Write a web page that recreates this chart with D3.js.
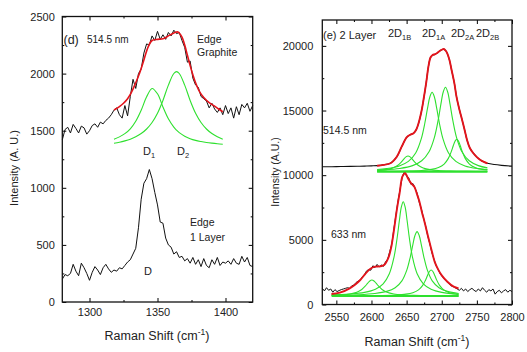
<!DOCTYPE html>
<html>
<head>
<meta charset="utf-8">
<script src="https://cdn.jsdelivr.net/npm/d3@7"></script>
<style>
html,body{margin:0;padding:0;background:#fff;}
svg{display:block;font-family:"Liberation Sans",Arial,sans-serif;}
</style>
</head>
<body>
<svg id="chart" width="527" height="352"></svg>
<script>
// ---------- Panel (d) data ----------
const dTopX = [1280,1282,1284,1286,1288,1290,1292,1294,1296,1298,1300,1302,1304,1306,1308,1310,1312,1314,1316,1318,1320,1322,1324,1326,1328,1330,1332,1334,1336,1338,1340,1342,1344,1346,1348,1350,1352,1354,1356,1358,1360,1362,1364,1366,1368,1370,1372,1374,1376,1378,1380,1382,1384,1386,1388,1390,1392,1394,1396,1398,1400,1402,1404,1406,1408,1410,1412,1414,1416,1418,1420];
const dTopY = [1420,1510,1530,1480,1555,1520,1480,1540,1525,1470,1500,1545,1560,1530,1575,1560,1590,1610,1640,1680,1700,1640,1610,1720,1630,1800,1950,1870,2000,2040,2180,2260,2250,2330,2290,2370,2300,2340,2300,2360,2330,2380,2350,2360,2290,2230,2100,2110,1960,1900,1880,1800,1780,1760,1700,1740,1690,1660,1700,1640,1720,1650,1700,1610,1710,1640,1730,1700,1740,1670,1720];
const dBotY = [200,240,230,250,330,270,230,340,300,250,190,260,310,280,240,300,330,290,260,280,270,300,290,320,350,370,420,470,650,900,1040,1080,1160,1080,960,850,700,690,560,500,480,420,440,390,400,360,380,340,390,330,370,310,380,320,300,370,330,390,320,350,340,360,330,380,340,330,400,350,390,320,310];
const dFitX = [1318,1322,1325,1328,1331,1334,1337,1340,1343,1346,1350,1354,1358,1362,1365,1368,1370,1372,1374,1376,1378,1381,1384,1388,1392,1395,1398];
const dFitY = [1681,1710,1740,1780,1840,1920,2010,2120,2230,2290,2300,2305,2330,2355,2365,2320,2250,2160,2070,1990,1920,1840,1790,1745,1715,1690,1666];
const dPeakX = [1318,1322,1326,1330,1334,1338,1342,1346,1350,1354,1358,1362,1364,1366,1370,1374,1378,1382,1386,1390,1394,1398];
const dD1 = [1426,1446,1474,1517,1583,1679,1797,1870,1823,1708,1604,1531,1505,1483,1452,1430,1415,1405,1397,1391,1386,1382];
const dD2 = [1390,1399,1411,1426,1447,1475,1515,1572,1653,1765,1899,2001,2017,2001,1899,1765,1653,1572,1515,1475,1447,1426];

// ---------- Panel (e) data : 514.5 nm ----------
const eTopX = [2530,2540,2550,2560,2570,2580,2590,2600,2608,2617,2627,2636,2643,2650,2656,2660,2664,2667,2671,2674,2678,2681,2684,2687,2690,2693,2697,2700,2703,2706,2708,2711,2714,2718,2721,2725,2729,2733,2736,2740,2745,2750,2755,2760,2765,2775,2785,2800];
const eTopY = [10650,10655,10660,10670,10680,10690,10700,10720,10740,10800,10930,11420,12200,12920,13150,13250,13560,14000,14900,15800,17200,18380,19100,19290,19340,19420,19600,19700,19750,19600,19400,18900,18140,17100,16080,15100,14270,13400,12720,12100,11700,11400,11180,11030,10920,10820,10760,10700];
const eTopFitX = [2608,2617,2627,2636,2643,2650,2656,2660,2664,2667,2671,2674,2678,2681,2684,2687,2690,2693,2697,2700,2703,2706,2708,2711,2714,2718,2721,2725,2729,2733,2736,2740,2745,2750,2755,2760,2765];
const eTopFitY = [10734,10800,10920,11431,12204,12931,13150,13240,13550,14014,14900,15816,17200,18391,19100,19300,19350,19425,19600,19700,19760,19600,19400,18900,18136,17100,16073,15100,14269,13400,12722,12100,11694,11400,11176,11030,10920];
const eTopBaseX = [2608,2765];
const eTopBaseY = [10271,10271];
const eT1BX = [2608,2621,2630.4,2637.6,2642.4,2646,2649,2652,2655,2658,2661.6,2666.4,2673.6,2683.2,2695.2,2712,2736,2765];
const eT1BY = [10355,10428,10558,10769,11012,11242,11413,11485,11413,11242,11012,10769,10558,10428,10358,10318,10295,10284];
const eT1AX = [2608,2621.3,2639.5,2652.5,2662.9,2670.7,2675.9,2679.8,2683.05,2686.3,2689.55,2692.8,2696.7,2701.9,2709.7,2720.1,2733.1,2751.3,2765];
const eT1AY = [10436,10507,10711,11063,11720,12788,14016,15183,16049,16411,16049,15183,14016,12788,11720,11063,10711,10507,10434];
const eT2AX = [2608,2614.3,2640.3,2658.5,2671.5,2681.9,2689.7,2694.9,2698.8,2702.05,2705.3,2708.55,2711.8,2715.7,2720.9,2728.7,2739.1,2752.1,2765];
const eT2AY = [10385,10402,10522,10738,11113,11811,12947,14252,15493,16413,16798,16413,15493,14252,12947,11811,11113,10738,10565];
const eT2BX = [2608,2651.4,2671.4,2685.4,2695.4,2703.4,2709.4,2713.4,2716.4,2718.9,2721.4,2723.9,2726.4,2729.4,2733.4,2739.4,2747.4,2757.4,2765];
const eT2BY = [10291,10321,10367,10450,10594,10862,11298,11799,12275,12628,12776,12628,12275,11799,11298,10862,10594,10450,10396];

// ---------- Panel (e) data : 633 nm ----------
const eBotX = [2530,2533,2536,2539,2542,2545,2548,2551,2554,2557,2560,2563,2566,2569,2572,2575,2578,2581,2584,2587,2590,2593,2596,2599,2602,2605,2608,2611,2614,2617,2620,2623,2626,2629,2632,2635,2638,2641,2644,2647,2650,2653,2656,2659,2662,2665,2668,2671,2674,2677,2680,2683,2686,2689,2692,2695,2698,2701,2704,2707,2710,2713,2716,2719,2722,2725,2728,2731,2734,2737,2740,2743,2746,2749,2752,2755,2758,2761,2764,2767,2770,2773,2776,2779,2782,2785,2788,2791,2794,2797,2800];
const eBotY = [1250,1050,1300,1100,1200,950,1150,1000,1080,1150,1200,1250,1300,1250,1450,1500,1700,1800,1900,2150,2300,2600,2700,2650,3000,2850,3100,2900,3050,2950,3300,3500,4100,4700,5900,7000,8100,9000,9900,10300,9900,9800,9300,9350,9000,8600,7900,7400,6700,6100,5300,4700,4000,3500,3000,2700,2350,2150,1950,1800,1650,1450,1400,1300,1200,1100,1250,1050,1200,1000,1150,1250,1100,1000,1200,1050,1300,1100,950,1150,1050,1200,800,1000,1100,900,1050,1150,950,1100,1000];
const eBotFitX = [2543,2555,2569,2577,2584,2591,2598,2605,2612,2618,2624,2628,2632,2636,2640,2644,2648,2652,2656,2661,2665,2668,2672,2675,2679,2682,2686,2690,2695,2700,2708,2717,2724];
const eBotFitY = [812,915,1253,1550,1895,2350,2746,2923,2950,3050,3600,4400,5760,7300,8600,9884,10150,9750,9400,9100,8500,8000,7100,6500,5600,4950,4100,3300,2700,2250,1760,1380,1250];
const eBotBaseX = [2543.4,2724];
const eBotBaseY = [657,657];
const eB1BX = [2543.4,2557.4,2569.4,2579,2586.2,2591,2594.6,2597.6,2600.6,2603.6,2606.6,2610.2,2615,2622.2,2631.8,2643.8,2660.6,2684.6,2724];
const eB1BY = [709,746,817,949,1165,1412,1647,1822,1895,1822,1647,1412,1165,949,817,746,705,682,669];
const eB1AX = [2543.4,2568.2,2590.2,2605.6,2616.6,2625.4,2632,2636.4,2639.7,2642.45,2645.2,2647.95,2650.7,2654,2658.4,2665,2673.8,2684.8,2700.2,2724];
const eB1AY = [741,803,938,1179,1598,2378,3648,5106,6492,7521,7951,7521,6492,5106,3648,2378,1598,1179,938,796];
const eB2AX = [2543.4,2580.9,2604.9,2621.7,2633.7,2643.3,2650.5,2655.3,2658.9,2661.9,2664.9,2667.9,2670.9,2674.5,2679.3,2686.5,2696.1,2708.1,2724];
const eB2AY = [705,757,849,1013,1299,1831,2697,3692,4637,5338,5632,5338,4637,3692,2697,1831,1299,1013,854];
const eB2BX = [2543.4,2614.9,2634.9,2648.9,2658.9,2666.9,2672.9,2676.9,2679.9,2682.4,2684.9,2687.4,2689.9,2692.9,2696.9,2702.9,2710.9,2720.9,2724];
const eB2BY = [667,697,734,801,916,1132,1482,1884,2266,2549,2668,2549,2266,1884,1482,1132,916,801,781];

// ---------- ticks ----------
const dXTicks = [1300,1350,1400];
const dXMinor = [1325,1375];
const dYTicks = [0,500,1000,1500,2000,2500];
const dYMinor = [250,750,1250,1750,2250];
const eXTicks = [2550,2600,2650,2700,2750,2800];
const eXMinor = [2575,2625,2675,2725,2775];
const eYTicks = [0,5000,10000,15000,20000];
const eYMinor = [2500,7500,12500,17500];

const svg = d3.select("#chart");
const RED = "#e3141c", GREEN = "#2ee02e", FONT = 11;

function panel(o){
  const g = svg.append("g");
  const x = o.x, y = o.y;
  const [x0,x1] = x.range(), [y0,y1] = y.range();
  const mk = (axis, tr, ticks, size, labels, pad) => {
    const a = axis.tickValues(ticks).tickSize(size).tickSizeOuter(0).tickPadding(pad||0);
    a.tickFormat(labels ? d3.format("d") : "");
    const ag = g.append("g").attr("transform", tr).call(a);
    ag.select(".domain").remove();
    ag.selectAll("line").attr("stroke","#000").attr("stroke-width",1);
    ag.selectAll("text").attr("font-size",FONT).attr("fill","#222").attr("font-family","Liberation Sans, Arial, sans-serif");
    return ag;
  };
  mk(d3.axisBottom(x), `translate(0,${y0})`, o.xt, -4, true, o.xpad);
  mk(d3.axisBottom(x), `translate(0,${y0})`, o.xm, -2, false);
  mk(d3.axisTop(x), `translate(0,${y1})`, o.xt, -4, false);
  mk(d3.axisTop(x), `translate(0,${y1})`, o.xm, -2, false);
  mk(d3.axisLeft(y), `translate(${x0},0)`, o.yt, -4, true, o.ypad);
  mk(d3.axisLeft(y), `translate(${x0},0)`, o.ym, -2, false);
  mk(d3.axisRight(y), `translate(${x1},0)`, o.yt, -4, false);
  mk(d3.axisRight(y), `translate(${x1},0)`, o.ym, -2, false);
  const line = (xs, ys, color, w, curve) => {
    const pts = xs.map((v,i)=>[v,ys[i]]);
    g.append("path").attr("d", d3.line().x(d=>x(d[0])).y(d=>y(d[1])).curve(curve||d3.curveLinear)(pts))
      .attr("fill","none").attr("stroke",color).attr("stroke-width",w).attr("stroke-linejoin","round");
  };
  o.draw(line);
  g.append("rect").attr("x",x0).attr("y",y1).attr("width",x1-x0).attr("height",y0-y1)
    .attr("fill","none").attr("stroke","#111").attr("stroke-width",1.3);
  return g;
}

const xL = d3.scaleLinear([1280,1420],[62.3,252.7]);
const yL = d3.scaleLinear([0,2500],[302,16.5]);
const xR = d3.scaleLinear([2530,2800],[322.3,512]);
const yR = d3.scaleLinear([0,22000],[304.5,20]);

panel({x:xL, y:yL, xt:dXTicks, xm:dXMinor, yt:dYTicks, ym:dYMinor, xpad:6.5, ypad:7.5,
  draw(line){
    line(dTopX, dTopY, "#111", 1);
    line(dTopX, dBotY, "#111", 1);
    line(dPeakX, dD1, GREEN, 1.1, d3.curveCatmullRom);
    line(dPeakX, dD2, GREEN, 1.1, d3.curveCatmullRom);
    line(dFitX, dFitY, RED, 1.6, d3.curveCatmullRom);
  }});

panel({x:xR, y:yR, xt:eXTicks, xm:eXMinor, yt:eYTicks, ym:eYMinor, xpad:8.5, ypad:9,
  draw(line){
    line(eTopX, eTopY, "#111", 1.1, d3.curveCatmullRom);
    line(eBotX, eBotY, "#111", 1);
    const gc = d3.curveCatmullRom;
    [[eT1BX,eT1BY],[eT1AX,eT1AY],[eT2AX,eT2AY],[eT2BX,eT2BY],[eB1BX,eB1BY],[eB1AX,eB1AY],[eB2AX,eB2AY],[eB2BX,eB2BY]]
      .forEach(([a,b])=>line(a,b,GREEN,1.1,gc));
    line(eTopBaseX, eTopBaseY, GREEN, 2.2);
    line(eBotBaseX, eBotBaseY, GREEN, 2.2);
    line(eTopFitX, eTopFitY, RED, 1.9, gc);
    line(eBotFitX, eBotFitY, RED, 1.9, gc);
  }});

// ---------- text ----------
const txt = (x,y,s,size,opts={}) => {
  const t = svg.append("text").attr("x",x).attr("y",y).attr("font-size",size).attr("fill","#222").text(s);
  if(opts.anchor) t.attr("text-anchor",opts.anchor);
  if(opts.rot) t.attr("transform",`rotate(-90,${x},${y})`);
  return t;
};
const sub = (x,y,main,subs,size) => {
  const t = svg.append("text").attr("x",x).attr("y",y).attr("font-size",size).attr("fill","#222");
  t.append("tspan").text(main);
  t.append("tspan").attr("font-size",size*0.68).attr("dy",3).text(subs);
  return t;
};
const xtitle = (x,y) => {
  const t = svg.append("text").attr("x",x).attr("y",y).attr("font-size",12.5).attr("fill","#222").attr("text-anchor","middle");
  t.append("tspan").text("Raman Shift (cm");
  t.append("tspan").attr("font-size",8.5).attr("dy",-5).text("-1");
  t.append("tspan").attr("dy",5).text(")");
};
xtitle(157,340);
xtitle(417,346);
txt(18,168,"Intensity (A. U.)",11,{anchor:"middle",rot:true});
txt(279,172,"Intensity (A.U.)",10.5,{anchor:"middle",rot:true});

txt(63.5,44,"(d)",12.5);
txt(87,43,"514.5 nm",10);
txt(197,43,"Edge",10.5);
txt(197,56,"Graphite",10.5);
sub(143,155,"D","1",11);
sub(177,155,"D","2",11);
txt(190,226,"Edge",10.5);
txt(190,241,"1 Layer",10.5);
txt(144,275,"D",11);

txt(323,39,"(e) 2 Layer",11);
sub(388,37,"2D","1B",11);
sub(422,37,"2D","1A",11);
sub(451,37,"2D","2A",11);
sub(476,37,"2D","2B",11);
txt(323,134,"514.5 nm",10.5);
txt(331,238,"633 nm",10.5);
</script>
</body>
</html>
